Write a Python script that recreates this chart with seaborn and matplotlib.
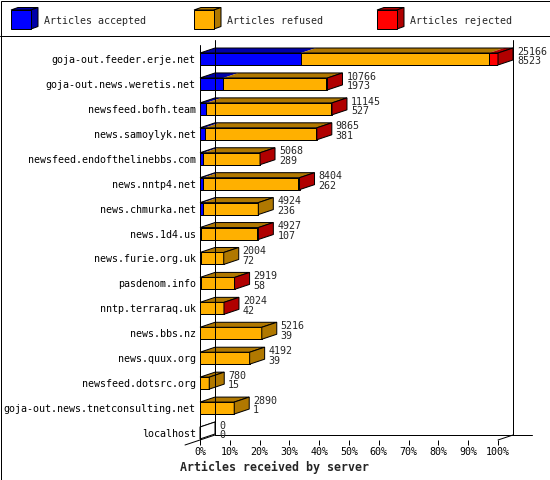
import matplotlib
matplotlib.use("Agg")
import matplotlib.pyplot as plt
import numpy as np
import pandas as pd
import seaborn as sns
from matplotlib.patches import Polygon, Rectangle

# values
servers = [
    "goja-out.feeder.erje.net",
    "goja-out.news.weretis.net",
    "newsfeed.bofh.team",
    "news.samoylyk.net",
    "newsfeed.endofthelinebbs.com",
    "news.nntp4.net",
    "news.chmurka.net",
    "news.1d4.us",
    "news.furie.org.uk",
    "pasdenom.info",
    "nntp.terraraq.uk",
    "news.bbs.nz",
    "news.quux.org",
    "newsfeed.dotsrc.org",
    "goja-out.news.tnetconsulting.net",
    "localhost",
]
offered = [25166, 10766, 11145, 9865, 5068, 8404, 4924, 4927, 2004, 2919, 2024, 5216, 4192, 780, 2890, 0]
accepted = [8523, 1973, 527, 381, 289, 262, 236, 107, 72, 58, 42, 39, 39, 15, 1, 0]
# rejected counts are estimated from the width of the red segments
rejected = [760, 90, 40, 30, 20, 90, 0, 80, 0, 15, 10, 0, 0, 0, 0, 0]
refused = [o - a - r for o, a, r in zip(offered, accepted, rejected)]

series_names = ["Articles accepted", "Articles refused", "Articles rejected"]
x_ticks = list(range(0, 101, 10))

front_cols = ["#0000ff", "#ffb000", "#ff0000"]
shade_cols = ["#0000a8", "#b07800", "#b00000"]

sns.set_theme(style="white")
plt.rcParams["font.family"] = ["DejaVu Sans Mono"]
FS = 7.2
LW = 0.72  # one pixel

# bar lengths as percent of the busiest server
top_val = max(offered)
df = pd.DataFrame({
    "server": servers,
    "acc": [a / top_val * 100 for a in accepted],
    "accref": [(a + r) / top_val * 100 for a, r in zip(accepted, refused)],
    "total": [o / top_val * 100 for o in offered],
})

W, H = 550, 480
fig = plt.figure(figsize=(W / 100, H / 100), dpi=100)
bg = fig.add_axes([0, 0, 1, 1])
bg.set_xlim(0, W)
bg.set_ylim(H, 0)
bg.axis("off")

ax = fig.add_axes([200 / W, 40 / H, 298 / W, 400 / H])
ax.patch.set_visible(False)

ROW = (433 - 59) / 15  # px between rows


def py(p):
    # pixel row (from top) -> data y
    return (p - 59) / ROW


DX = 15 / 2.98
DY = 5 / ROW
HALF = 0.24

for col, colour in zip(["total", "accref", "acc"], front_cols[::-1]):
    sns.barplot(data=df, x=col, y="server", orient="h", color=colour,
                saturation=1, width=2 * HALF, edgecolor="black",
                linewidth=LW, errorbar=None, ax=ax)

ax.set_xlim(0, 100)
ax.set_ylim(py(440), py(40))

# 3D top and side faces
for i, row in df.iterrows():
    edges = [0, row["acc"], row["accref"], row["total"]]
    top = i - HALF
    bot = i + HALF
    last = None
    for k in range(3):
        a, b = edges[k], edges[k + 1]
        if b > a:
            ax.add_patch(Polygon([(a, top), (b, top), (b + DX, top - DY), (a + DX, top - DY)],
                                 closed=True, facecolor=shade_cols[k], edgecolor="none",
                                 clip_on=False))
            last = k
    e = row["total"]
    ax.add_patch(Polygon([(0, top), (e, top), (e + DX, top - DY), (DX, top - DY)],
                         closed=True, fill=False, edgecolor="black", lw=LW, clip_on=False))
    side_col = shade_cols[last] if last is not None else "white"
    ax.add_patch(Polygon([(e, top), (e, bot), (e + DX, bot - DY), (e + DX, top - DY)],
                         closed=True, facecolor=side_col, edgecolor="black", lw=LW,
                         clip_on=False))
    ax.annotate(f"{offered[i]}\n{accepted[i]}", xy=(e + DX, i - DY / 2), xytext=(4, 0),
                textcoords="offset pixels", ha="left", va="center", fontsize=FS,
                linespacing=0.95, annotation_clip=False)

# frame of the 3D box
lk = dict(color="black", lw=LW, clip_on=False)
ax.plot([0, 0], [py(45), py(440)], **lk)
ax.plot([DX, DX], [py(40), py(435)], **lk)
ax.plot([100 + DX, 100 + DX], [py(40), py(435)], **lk)
ax.plot([DX, (532 - 200) / 2.98], [py(435), py(435)], **lk)
ax.plot([-DX, DX], [py(445), py(435)], **lk)
ax.plot([100, 100 + DX], [py(440), py(435)], **lk)

for s in ax.spines.values():
    s.set_visible(False)
ax.set_xticks(x_ticks)
ax.set_xticklabels([f"{t}%" for t in x_ticks])
ax.tick_params(axis="x", bottom=True, length=3.6, width=LW, color="black",
               pad=1.5, labelsize=FS, labelcolor="black")
ax.tick_params(axis="y", left=False, length=0, pad=3, labelsize=FS, labelcolor="black")
ax.set_xlabel("")
ax.set_ylabel("")

# outer border, legend strip, axis title
bg.add_patch(Rectangle((0.5, 0.5), W - 1, H - 1, fill=False, lw=LW, edgecolor="black"))
bg.plot([0, W], [35.5, 35.5], color="black", lw=LW)
for x0, name, fc, sc in zip([11, 194, 377], series_names, front_cols, shade_cols):
    bg.add_patch(Polygon([(x0, 10), (x0 + 20, 10), (x0 + 27, 7.5), (x0 + 7, 7.5)],
                         closed=True, facecolor=sc, edgecolor="black", lw=LW))
    bg.add_patch(Polygon([(x0 + 20, 10), (x0 + 20, 29), (x0 + 27, 26.5), (x0 + 27, 7.5)],
                         closed=True, facecolor=sc, edgecolor="black", lw=LW))
    bg.add_patch(Rectangle((x0, 10), 20, 19, facecolor=fc, edgecolor="black", lw=LW))
    bg.text(x0 + 33, 20.5, name, ha="left", va="center", fontsize=FS)

bg.text(275, 467, "Articles received by server", ha="center", va="center",
        fontsize=8.4, fontweight="bold")

fig.savefig("out.png", dpi=100)
